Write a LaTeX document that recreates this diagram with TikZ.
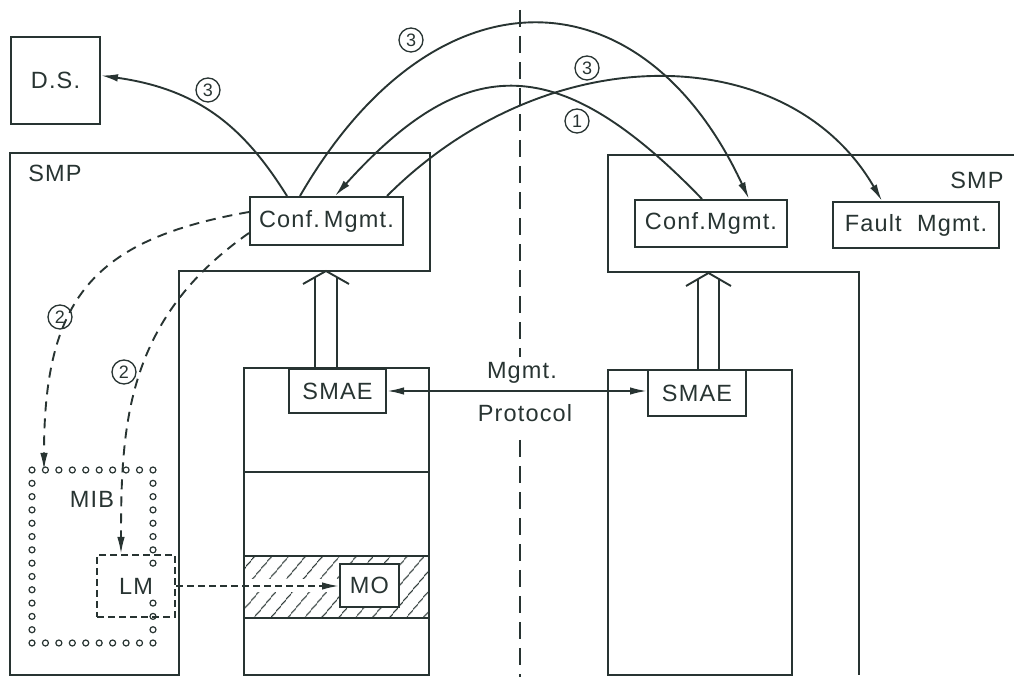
\documentclass[tikz,border=0pt]{standalone}
\usepackage{fontspec}
\setmainfont{Liberation Sans}[LetterSpace=5]
\usetikzlibrary{arrows.meta, patterns.meta}

\definecolor{ink}{RGB}{40,52,50}
\newcommand{\lblfont}{\fontsize{23.5}{26}\selectfont}
\newcommand{\numfont}{\fontsize{18}{18}\selectfont}

\tikzset{
  box/.style={draw=ink, line width=2pt, fill=white, inner sep=0pt},
  arr/.style={-{Latex[length=17pt,width=7.5pt]}},
  arrboth/.style={{Latex[length=17pt,width=7.5pt]}-{Latex[length=17pt,width=7.5pt]}},
  num/.style={circle, draw=ink, line width=1.3pt, inner sep=0pt, minimum size=24pt, font=\numfont},
  dsh/.style={dash pattern=on 10pt off 7pt},
  dshshort/.style={dash pattern=on 7pt off 4pt},
  divider/.style={dash pattern=on 17pt off 9pt},
}

\begin{document}
\begin{tikzpicture}[x=1pt,y=1pt,color=ink,line width=1.9pt,font=\lblfont]
\useasboundingbox (0,0) rectangle (1014,677);

%Shape: left SMP outline
\draw (10,524) -- (430,524) -- (430,406) -- (179,406) -- (179,2) -- (10,2) -- cycle;
%Shape: right SMP outline
\draw (1014,522) -- (608,522) -- (608,405) -- (859,405) -- (859,2);

%Shape: left stack, hatched layer
\fill[pattern={Lines[angle=50,distance=13pt,line width=1.1pt]}, pattern color=ink] (244,59) rectangle (429,121);
\fill[white] (245,85) rectangle (340,98);
\draw (244,2) rectangle (429,309);
\draw (244,205) -- (429,205) (244,121) -- (429,121) (244,59) -- (429,59);
%Shape: right stack
\draw (608,2) rectangle (792,307);

%Divider
\draw[divider] (520,667) -- (520,320);
\draw[divider] (520,237) -- (520,0);

% Boxes
\node[box, minimum width=89, minimum height=87] (ds) at (55.5,596.5) {D.S.};
\node[box, minimum width=153, minimum height=48] (cmL) at (326.5,456) {Conf.\,Mgmt.};
\node[box, minimum width=152, minimum height=47] (cmR) at (711,453.5) {Conf.Mgmt.};
\node[box, minimum width=166, minimum height=46] (fm) at (916,452) {Fault\ \ Mgmt.};
\node[box, minimum width=97, minimum height=44] (smaeL) at (337.5,286) {SMAE};
\node[box, minimum width=98, minimum height=46] (smaeR) at (697,284) {SMAE};
\node[box, minimum width=59, minimum height=43] (mo) at (369.5,91.5) {MO};
\node[box, fill=none, dshshort, minimum width=78, minimum height=62] (lm) at (136,91) {LM};

% Text Node
\node (smpL) at (55,504) {SMP};
\node (smpR) at (977,497) {SMP};
\node (mib) at (92,178) {MIB};
\node (mgmt) at (522,304) {Mgmt.};
\node (proto) at (525,264) {Protocol};

%MIB dotted outline
\foreach \i in {0,...,9} {
  \draw[line width=1.2pt] (32+\i*13.44,207) circle (3);
  \draw[line width=1.2pt] (32+\i*13.44,34) circle (3);
}
\foreach \j in {1,...,12}
  \draw[line width=1.2pt] (32,207-\j*13.31) circle (3);
\foreach \j in {1,...,7,10,11,12}
  \draw[line width=1.2pt] (153,207-\j*13.31) circle (3);
\coordinate (mibtop) at (44,207);

%Double arrows SMAE -> Conf.Mgmt
\draw (315,309) -- (315,399) (337,309) -- (337,399) (303,393) -- (326,406) -- (349,393);
\draw (698,307) -- (698,397) (719,307) -- (719,397) (686,391) -- (708.5,404) -- (731,391);

%Mgmt. protocol
\draw[arrboth] (smaeL.east) -- (smaeL.east -| smaeR.west);

%Curved connectors
\draw[arr] ([xshift=-39.5]cmL.north) .. controls +(122:80) and +(-8:100) .. ([yshift=5]ds.east);
\draw[arr] ([xshift=-26.5]cmL.north) .. controls +(60:267) and +(115:255) .. ([xshift=38]cmR.north);
\draw[arr] ([xshift=-9]cmR.north) .. controls +(134:204) and +(48:198) .. ([xshift=8.5]cmL.north);
\draw[arr] ([xshift=60.5]cmL.north) .. controls +(45:228) and +(120:186) .. ([xshift=-34]fm.north);

%Dashed connectors
\draw[arr, dsh] ([yshift=9]cmL.west) .. controls +(190:160) and +(90:170) .. (mibtop);
\draw[arr, dsh] ([yshift=-12]cmL.west) .. controls +(215:150) and +(90:130) .. ([xshift=-15]lm.north);
\draw[arr, dshshort] (lm.east) -- (lm.east -| mo.west);

%Step numbers
\node[num] (n1) at (208,587) {3};
\node[num] (n2) at (411,637) {3};
\node[num] (n3) at (587,609) {3};
\node[num] (n4) at (577,556) {1};
\node[num] (n5) at (60,360) {2};
\node[num] (n6) at (124,305) {2};

\end{tikzpicture}
\end{document}
